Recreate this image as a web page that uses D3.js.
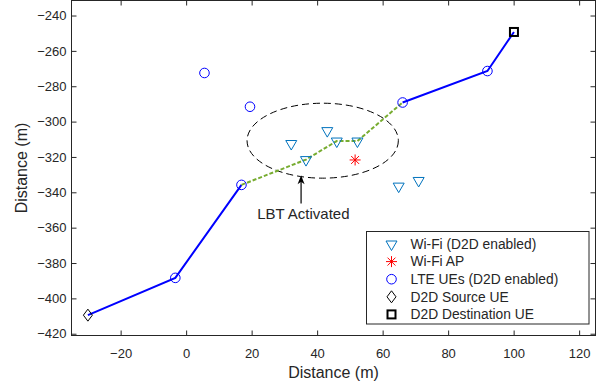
<!DOCTYPE html>
<html lang="en">
<head>
  <meta charset="UTF-8">
  <title>D2D route</title>
  <script src="https://d3js.org/d3.v7.min.js"></script>
  <style>
    body { margin: 0; background: #fff; }
    text { font-family: "Liberation Sans", Arial, sans-serif; fill: #262626; }
  </style>
</head>
<body>
  <svg id="chart" width="610" height="390"></svg>

  <script>
    // Data
    const wifiX = [32.1, 43.1, 46.0, 52.3, 36.6, 64.9, 71.0];
    const wifiY = [-312.4, -305.1, -311.0, -311.0, -321.5, -336.5, -333.3];
    const apX = [51.6];
    const apY = [-321.7];
    const lteX = [-3.3, 16.9, 66.1, 92.0, 5.6, 19.5];
    const lteY = [-388.4, -335.8, -289.2, -271.4, -272.5, -291.6];
    const srcX = [-30];
    const srcY = [-409.5];
    const dstX = [100.1];
    const dstY = [-249.3];

    // route hops: LTE (blue) then Wi-Fi D2D (green) then LTE again
    const routeAX = [-30, -3.3, 16.9];
    const routeAY = [-409.5, -388.4, -335.8];
    const routeBX = [16.9, 36.6, 46.0, 52.3, 66.1];
    const routeBY = [-335.8, -321.5, -311.0, -311.0, -289.2];
    const routeCX = [66.1, 92.0, 100.1];
    const routeCY = [-289.2, -271.4, -249.3];

    // LBT region and annotation
    const lbtCenter = [41.7, -310.8];
    const lbtRadius = [23.1, 21.2];
    const arrowFrom = [35.1, -346.4];
    const arrowTo = [35.1, -330.4];
    const noteText = "LBT Activated";
    const notePos = [35.8, -355.3];

    const xTicks = [-20, 0, 20, 40, 60, 80, 100, 120];
    const yTicks = [-420, -400, -380, -360, -340, -320, -300, -280, -260, -240];

    const legendLabels = ["Wi-Fi (D2D enabled)", "Wi-Fi AP", "LTE UEs (D2D enabled)", "D2D Source UE", "D2D Destination UE"];
    const legendKinds = ["tri", "star", "circle", "diamond", "square"];

    const svg = d3.select("#chart");
    const ink = "#262626";
    const fmt = d => String(d).replace("-", "\u2212");

    const x = d3.scaleLinear().domain([-35, 125]).range([71.5, 595.5]);
    const y = d3.scaleLinear().domain([-421, -231.5]).range([335.5, 0.5]);

    // Axes (ticks inward, MATLAB style)
    const styleAxis = g => {
      g.select(".domain").remove();
      g.selectAll("line").attr("stroke", ink);
      g.selectAll("text").style("font-size", "13px").attr("fill", ink);
    };

    svg.append("g")
      .attr("transform", `translate(0,${y.range()[0]})`)
      .call(d3.axisBottom(x).tickValues(xTicks).tickSize(-5).tickPadding(13).tickFormat(fmt))
      .call(styleAxis);
    svg.append("g")
      .attr("transform", `translate(0,${y.range()[1]})`)
      .call(d3.axisTop(x).tickValues(xTicks).tickSize(-5).tickFormat(""))
      .call(styleAxis);
    svg.append("g")
      .attr("transform", `translate(${x.range()[0]},0)`)
      .call(d3.axisLeft(y).tickValues(yTicks).tickSize(-5).tickPadding(5).tickFormat(fmt))
      .call(styleAxis);
    svg.append("g")
      .attr("transform", `translate(${x.range()[1]},0)`)
      .call(d3.axisRight(y).tickValues(yTicks).tickSize(-5).tickFormat(""))
      .call(styleAxis);

    svg.append("rect")
      .attr("x", x.range()[0]).attr("y", y.range()[1])
      .attr("width", x.range()[1] - x.range()[0])
      .attr("height", y.range()[0] - y.range()[1])
      .attr("fill", "none").attr("stroke", ink).attr("stroke-width", 1);

    // Axis labels
    svg.append("text")
      .attr("x", (x.range()[0] + x.range()[1]) / 2).attr("y", 378)
      .attr("text-anchor", "middle").style("font-size", "16px")
      .text("Distance (m)");
    svg.append("text")
      .attr("transform", `translate(27,${(y.range()[0] + y.range()[1]) / 2}) rotate(-90)`)
      .attr("text-anchor", "middle").style("font-size", "16px")
      .text("Distance (m)");

    // LBT ellipse
    svg.append("ellipse")
      .attr("cx", x(lbtCenter[0])).attr("cy", y(lbtCenter[1]))
      .attr("rx", x(lbtCenter[0] + lbtRadius[0]) - x(lbtCenter[0]))
      .attr("ry", y(lbtCenter[1]) - y(lbtCenter[1] + lbtRadius[1]))
      .attr("fill", "none").attr("stroke", "#000")
      .attr("stroke-width", 1).attr("stroke-dasharray", "7,4");

    // Route lines
    const line = d3.line().x(d => x(d[0])).y(d => y(d[1]));
    const zip = (xs, ys) => xs.map((v, i) => [v, ys[i]]);

    svg.append("path").datum(zip(routeAX, routeAY))
      .attr("d", line).attr("fill", "none").attr("stroke", "#0000ff").attr("stroke-width", 2);
    svg.append("path").datum(zip(routeCX, routeCY))
      .attr("d", line).attr("fill", "none").attr("stroke", "#0000ff").attr("stroke-width", 2);
    svg.append("path").datum(zip(routeBX, routeBY))
      .attr("d", line).attr("fill", "none").attr("stroke", "#77ac30")
      .attr("stroke-width", 2).attr("stroke-dasharray", "4,2");

    // Markers
    const drawMarker = (g, kind, cx, cy) => {
      if (kind === "tri") {
        g.append("path")
          .attr("d", `M${cx - 5.5},${cy - 3}L${cx + 5.5},${cy - 3}L${cx},${cy + 6.5}Z`)
          .attr("fill", "none").attr("stroke", "#0072bd").attr("stroke-width", 1);
      } else if (kind === "star") {
        const r = 5.5, q = r * 0.72;
        g.append("path")
          .attr("d", `M${cx - r},${cy}L${cx + r},${cy}M${cx},${cy - r}L${cx},${cy + r}` +
                     `M${cx - q},${cy - q}L${cx + q},${cy + q}M${cx - q},${cy + q}L${cx + q},${cy - q}`)
          .attr("fill", "none").attr("stroke", "#ff0000").attr("stroke-width", 1);
      } else if (kind === "circle") {
        g.append("circle").attr("cx", cx).attr("cy", cy).attr("r", 4.8)
          .attr("fill", "none").attr("stroke", "#0000ff").attr("stroke-width", 1);
      } else if (kind === "diamond") {
        g.append("path")
          .attr("d", `M${cx},${cy - 6}L${cx + 4.5},${cy}L${cx},${cy + 6}L${cx - 4.5},${cy}Z`)
          .attr("fill", "none").attr("stroke", "#000").attr("stroke-width", 1);
      } else if (kind === "square") {
        g.append("rect").attr("x", cx - 4).attr("y", cy - 4).attr("width", 8).attr("height", 8)
          .attr("fill", "none").attr("stroke", "#000").attr("stroke-width", 2);
      }
    };

    const marks = svg.append("g");
    wifiX.forEach((v, i) => drawMarker(marks, "tri", x(v), y(wifiY[i])));
    apX.forEach((v, i) => drawMarker(marks, "star", x(v), y(apY[i])));
    lteX.forEach((v, i) => drawMarker(marks, "circle", x(v), y(lteY[i])));
    srcX.forEach((v, i) => drawMarker(marks, "diamond", x(v), y(srcY[i])));
    dstX.forEach((v, i) => drawMarker(marks, "square", x(v), y(dstY[i])));

    // Annotation arrow
    const ax = x(arrowTo[0]), ay = y(arrowTo[1]);
    svg.append("line")
      .attr("x1", x(arrowFrom[0])).attr("y1", y(arrowFrom[1]))
      .attr("x2", ax).attr("y2", ay + 4)
      .attr("stroke", "#000").attr("stroke-width", 1.2);
    svg.append("path")
      .attr("d", `M${ax},${ay}L${ax + 3.5},${ay + 9}L${ax},${ay + 6.5}L${ax - 3.5},${ay + 9}Z`)
      .attr("fill", "#000");
    svg.append("text")
      .attr("x", x(notePos[0])).attr("y", y(notePos[1]))
      .attr("text-anchor", "middle").style("font-size", "15px")
      .text(noteText);

    // Legend
    const legend = svg.append("g");
    legend.append("rect")
      .attr("x", 366.5).attr("y", 231.5).attr("width", 222.5).attr("height", 92.5)
      .attr("fill", "#fff").attr("stroke", ink).attr("stroke-width", 1);
    legendLabels.forEach((label, i) => {
      const cy = 244 + i * 17.6;
      drawMarker(legend, legendKinds[i], 391.5, cy);
      legend.append("text")
        .attr("x", 410.5).attr("y", cy + 4.8)
        .style("font-size", "13.8px")
        .text(label);
    });
  </script>
</body>
</html>
